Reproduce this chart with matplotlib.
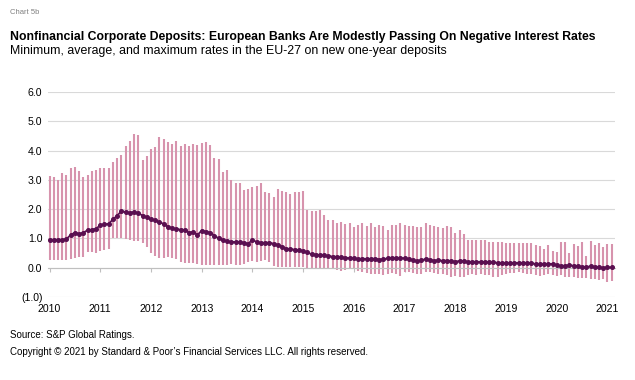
import numpy as np
import matplotlib.pyplot as plt

plt.rcParams['font.family'] = ['Liberation Sans', 'DejaVu Sans']

# monthly, Jan 2010 - Feb 2021
max_rate = [3.14, 3.10, 2.99, 3.25, 3.16, 3.41, 3.43, 3.30, 3.10, 3.18, 3.30, 3.33,
            3.42, 3.42, 3.42, 3.61, 3.76, 3.84, 4.15, 4.32, 4.56, 4.52, 3.67, 3.81,
            4.07, 4.12, 4.47, 4.39, 4.30, 4.22, 4.33, 4.17, 4.24, 4.17, 4.24, 4.20,
            4.26, 4.30, 4.18, 3.75, 3.72, 3.27, 3.33, 2.99, 2.88, 2.88, 2.65, 2.70,
            2.76, 2.78, 2.88, 2.59, 2.56, 2.42, 2.70, 2.63, 2.58, 2.53, 2.57, 2.58,
            2.63, 1.97, 1.94, 1.94, 1.97, 1.80, 1.63, 1.63, 1.51, 1.57, 1.49, 1.51,
            1.40, 1.45, 1.51, 1.42, 1.53, 1.40, 1.45, 1.42, 1.28, 1.45, 1.45, 1.51,
            1.45, 1.42, 1.42, 1.38, 1.40, 1.51, 1.45, 1.43, 1.40, 1.34, 1.43, 1.40,
            1.17, 1.28, 1.15, 0.95, 0.95, 0.95, 0.94, 0.94, 0.89, 0.89, 0.88, 0.88,
            0.86, 0.86, 0.86, 0.85, 0.85, 0.85, 0.83, 0.77, 0.74, 0.64, 0.77, 0.58,
            0.52, 0.87, 0.87, 0.49, 0.80, 0.74, 0.87, 0.40, 0.90, 0.77, 0.84, 0.72,
            0.82, 0.80]

avg_rate = [0.95, 0.93, 0.96, 0.95, 0.98, 1.12, 1.20, 1.15, 1.20, 1.28, 1.30, 1.33,
            1.45, 1.48, 1.50, 1.65, 1.78, 1.93, 1.90, 1.88, 1.90, 1.87, 1.78, 1.72,
            1.65, 1.62, 1.55, 1.50, 1.40, 1.35, 1.32, 1.30, 1.28, 1.20, 1.22, 1.12,
            1.27, 1.23, 1.20, 1.10, 1.00, 0.95, 0.90, 0.88, 0.88, 0.88, 0.85, 0.82,
            0.95, 0.88, 0.85, 0.85, 0.86, 0.82, 0.78, 0.72, 0.65, 0.63, 0.62, 0.60,
            0.57, 0.52, 0.46, 0.45, 0.43, 0.42, 0.40, 0.38, 0.37, 0.35, 0.34, 0.33,
            0.32, 0.30, 0.31, 0.30, 0.30, 0.31, 0.28, 0.29, 0.32, 0.34, 0.33, 0.33,
            0.32, 0.30, 0.26, 0.22, 0.25, 0.30, 0.27, 0.24, 0.25, 0.24, 0.24, 0.22,
            0.21, 0.23, 0.22, 0.20, 0.20, 0.20, 0.20, 0.19, 0.18, 0.18, 0.17, 0.16,
            0.15, 0.16, 0.16, 0.17, 0.16, 0.16, 0.15, 0.13, 0.11, 0.12, 0.13, 0.13,
            0.08, 0.06, 0.07, 0.08, 0.07, 0.05, 0.03, 0.02, 0.05, 0.03, 0.01, 0.00,
            0.01, 0.01]

min_rate = [0.26, 0.25, 0.25, 0.26, 0.27, 0.30, 0.32, 0.36, 0.35, 0.55, 0.55, 0.50,
            0.58, 0.62, 0.65, 1.00, 1.00, 1.02, 0.97, 0.95, 0.92, 0.90, 0.85, 0.72,
            0.50, 0.40, 0.33, 0.32, 0.35, 0.33, 0.30, 0.20, 0.17, 0.15, 0.15, 0.14,
            0.10, 0.09, 0.09, 0.08, 0.10, 0.09, 0.10, 0.12, 0.10, 0.09, 0.12, 0.20,
            0.22, 0.20, 0.24, 0.25, 0.18, 0.05, 0.03, 0.02, 0.03, 0.02, 0.01, 0.02,
            0.01, 0.00, -0.01, 0.00, -0.02, -0.01, -0.03, -0.05, -0.08, -0.10, -0.08, -0.06,
            -0.05, -0.10, -0.15, -0.17, -0.20, -0.22, -0.23, -0.25, -0.22, -0.18, -0.20, -0.28,
            -0.15, -0.14, -0.18, -0.22, -0.22, -0.16, -0.14, -0.18, -0.22, -0.20, -0.25, -0.30,
            -0.28, -0.30, -0.33, -0.25, -0.23, -0.25, -0.23, -0.25, -0.25, -0.30, -0.32, -0.25,
            -0.20, -0.18, -0.17, -0.15, -0.18, -0.20, -0.22, -0.25, -0.27, -0.25, -0.23, -0.25,
            -0.28, -0.25, -0.30, -0.33, -0.33, -0.35, -0.35, -0.36, -0.38, -0.40, -0.42, -0.40,
            -0.48, -0.45]

years = ['2010', '2011', '2012', '2013', '2014', '2015', '2016', '2017',
         '2018', '2019', '2020', '2021']
yticks = [-1, 0, 1, 2, 3, 4, 5, 6]
ylabels = ['(1.0)', '0.0', '1.0', '2.0', '3.0', '4.0', '5.0', '6.0']

x = np.arange(len(avg_rate))

fig = plt.figure(figsize=(6.35, 3.8), dpi=100)
ax = fig.add_axes([0.0756, 0.2184, 0.893, 0.5395])

ax.vlines(x, min_rate, max_rate, color='#d793ad', linewidth=1.5, zorder=2)
ax.plot(x, avg_rate, color='#5a0f50', linewidth=1.3, marker='o',
        markersize=2.6, zorder=3)

ax.set_ylim(-1, 6)
ax.set_xlim(-0.36, 133.8)
ax.set_yticks(yticks)
ax.set_yticklabels(ylabels)
ax.set_xticks(np.arange(len(years)) * 12)
ax.set_xticklabels(years)
ax.grid(axis='y', color='#d9d9d9', linewidth=0.8, zorder=0)
ax.set_axisbelow(True)
for s in ['top', 'right', 'left']:
    ax.spines[s].set_visible(False)
ax.spines['bottom'].set_position(('data', 0))
ax.spines['bottom'].set_color('#bfbfbf')
ax.spines['bottom'].set_linewidth(0.8)
ax.tick_params(axis='y', length=0, labelsize=7.6, pad=4, colors='#000000')
ax.tick_params(axis='x', length=3, color='#bfbfbf', labelsize=7.6, pad=23)

fig.text(0.016, 0.968, 'Chart 5b', fontsize=5.5, color='#808080', va='center')
fig.text(0.016, 0.902, 'Nonfinancial Corporate Deposits: European Banks Are Modestly '
         'Passing On Negative Interest Rates', fontsize=8.8, fontweight='bold', va='center')
fig.text(0.016, 0.865, 'Minimum, average, and maximum rates in the EU-27 on new '
         'one-year deposits', fontsize=8.9, va='center')
fig.text(0.016, 0.118, 'Source: S&P Global Ratings.', fontsize=7.0, va='center')
fig.text(0.016, 0.074, 'Copyright \u00a9 2021 by Standard & Poor\u2019s Financial '
         'Services LLC. All rights reserved.', fontsize=7.0, va='center')

fig.savefig('out.png', dpi=100, facecolor='white')
